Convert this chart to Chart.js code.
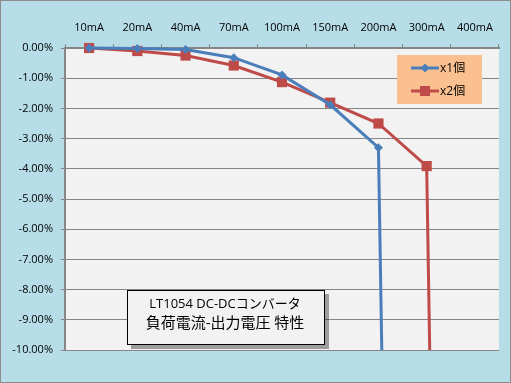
<!DOCTYPE html>
<html><head><meta charset="utf-8">
<script src="https://cdn.jsdelivr.net/npm/chart.js@4"></script>
<style>html,body{margin:0;padding:0;background:#b7dde8}#w{width:511px;height:383px}</style>
</head><body><div id="w"><canvas id="c" width="511" height="383"></canvas></div>
<script>
const categories = ['10mA','20mA','40mA','70mA','100mA','150mA','200mA','300mA','400mA'];
const seriesX1 = [0, -0.02, -0.05, -0.32, -0.89, -1.88, -3.30, -100, -100];
const seriesX2 = [0, -0.10, -0.25, -0.58, -1.13, -1.81, -2.50, -3.91, -100];
const seriesNames = ['x1個','x2個'];
const yTicks = [0,-1,-2,-3,-4,-5,-6,-7,-8,-9,-10];
const titleLines = ['LT1054 DC-DCコンバータ','負荷電流-出力電圧 特性'];

const FONT = "'Open Sans','Noto Sans CJK JP',sans-serif";
const BLUE = '#4a7ebb', RED = '#be4b48';

const bgPlugin = {
  id:'bg',
  beforeDraw(chart){
    const {ctx, chartArea:a} = chart;
    ctx.save();
    ctx.fillStyle='#b7dde8';
    ctx.fillRect(0,0,chart.width,chart.height);
    ctx.strokeStyle='#8c8c8c'; ctx.lineWidth=1;
    ctx.strokeRect(0.5,0.5,chart.width-1,chart.height-1);
    ctx.fillStyle='#f2f2f2';
    ctx.fillRect(a.left,a.top,a.right-a.left,a.bottom-a.top);
    ctx.restore();
  },
  afterDraw(chart){
    const ctx = chart.ctx;
    ctx.save();
    // legend
    const lx=397, ly=55, lw=85, lh=49;
    ctx.fillStyle='#fac090';
    ctx.fillRect(lx,ly,lw,lh);
    const items=[{c:BLUE,s:'d',y:68},{c:RED,s:'s',y:91}];
    items.forEach((it,i)=>{
      ctx.strokeStyle=it.c; ctx.lineWidth=3;
      ctx.beginPath(); ctx.moveTo(411,it.y); ctx.lineTo(439,it.y); ctx.stroke();
      ctx.fillStyle=it.c;
      ctx.beginPath();
      if(it.s==='d'){ctx.moveTo(420.5,it.y);ctx.lineTo(425,it.y-4.5);ctx.lineTo(429.5,it.y);ctx.lineTo(425,it.y+4.5);ctx.closePath();}
      else {ctx.rect(420,it.y-5,10,10);}
      ctx.fill();
      ctx.fillStyle='#000'; ctx.font="12px "+FONT; ctx.textBaseline='middle'; ctx.textAlign='left';
      ctx.fillText(seriesNames[i],440,it.y+1);
    });
    // title box
    const bx=127, by=290, bw=198, bh=55;
    ctx.fillStyle='rgba(0,0,0,0.35)';
    ctx.fillRect(bx+4,by+4,bw,bh);
    ctx.fillStyle='#f2f2f2';
    ctx.fillRect(bx,by,bw,bh);
    ctx.strokeStyle='#000'; ctx.lineWidth=1;
    ctx.strokeRect(bx+0.5,by+0.5,bw-1,bh-1);
    ctx.fillStyle='#000'; ctx.textAlign='center'; ctx.textBaseline='middle';
    ctx.font="13px "+FONT;
    ctx.fillText(titleLines[0],225,304);
    ctx.font="15px "+FONT;
    ctx.fillText(titleLines[1],225,324);
    ctx.restore();
  }
};

new Chart(document.getElementById('c'),{
  type:'line',
  data:{labels:categories,datasets:[
    {label:seriesNames[0],data:seriesX1,borderColor:BLUE,backgroundColor:BLUE,borderWidth:3,pointStyle:'rectRot',pointRadius:4.5,pointBorderWidth:0,tension:0,clip:{left:10,top:10,right:10,bottom:0}},
    {label:seriesNames[1],data:seriesX2,borderColor:RED,backgroundColor:RED,borderWidth:3,pointStyle:'rect',pointRadius:7.2,pointBorderWidth:0,tension:0,clip:{left:10,top:10,right:10,bottom:0}}
  ]},
  options:{
    responsive:false,animation:false,
    layout:{padding:{left:0,top:0,right:12,bottom:33}},
    plugins:{legend:{display:false},tooltip:{enabled:false}},
    scales:{
      x:{position:'top',offset:true,
        grid:{offset:true,drawOnChartArea:false,drawTicks:true,tickLength:4,color:'#868686'},
        border:{color:'#868686',width:2},
        ticks:{color:'#000',font:{family:FONT,size:11},padding:10,maxRotation:0},
        afterFit(s){s.height=48;}
      },
      y:{min:-10,max:0,
        afterBuildTicks(s){s.ticks=yTicks.map(v=>({value:v}));},
        grid:{color:'#868686',tickLength:4,lineWidth:1},
        border:{color:'#868686',width:2},
        ticks:{color:'#000',font:{family:FONT,size:11},padding:8,callback:v=>v.toFixed(2)+'%'},
        afterFit(s){s.width=65;}
      }
    }
  },
  plugins:[bgPlugin]
});
</script></body></html>
